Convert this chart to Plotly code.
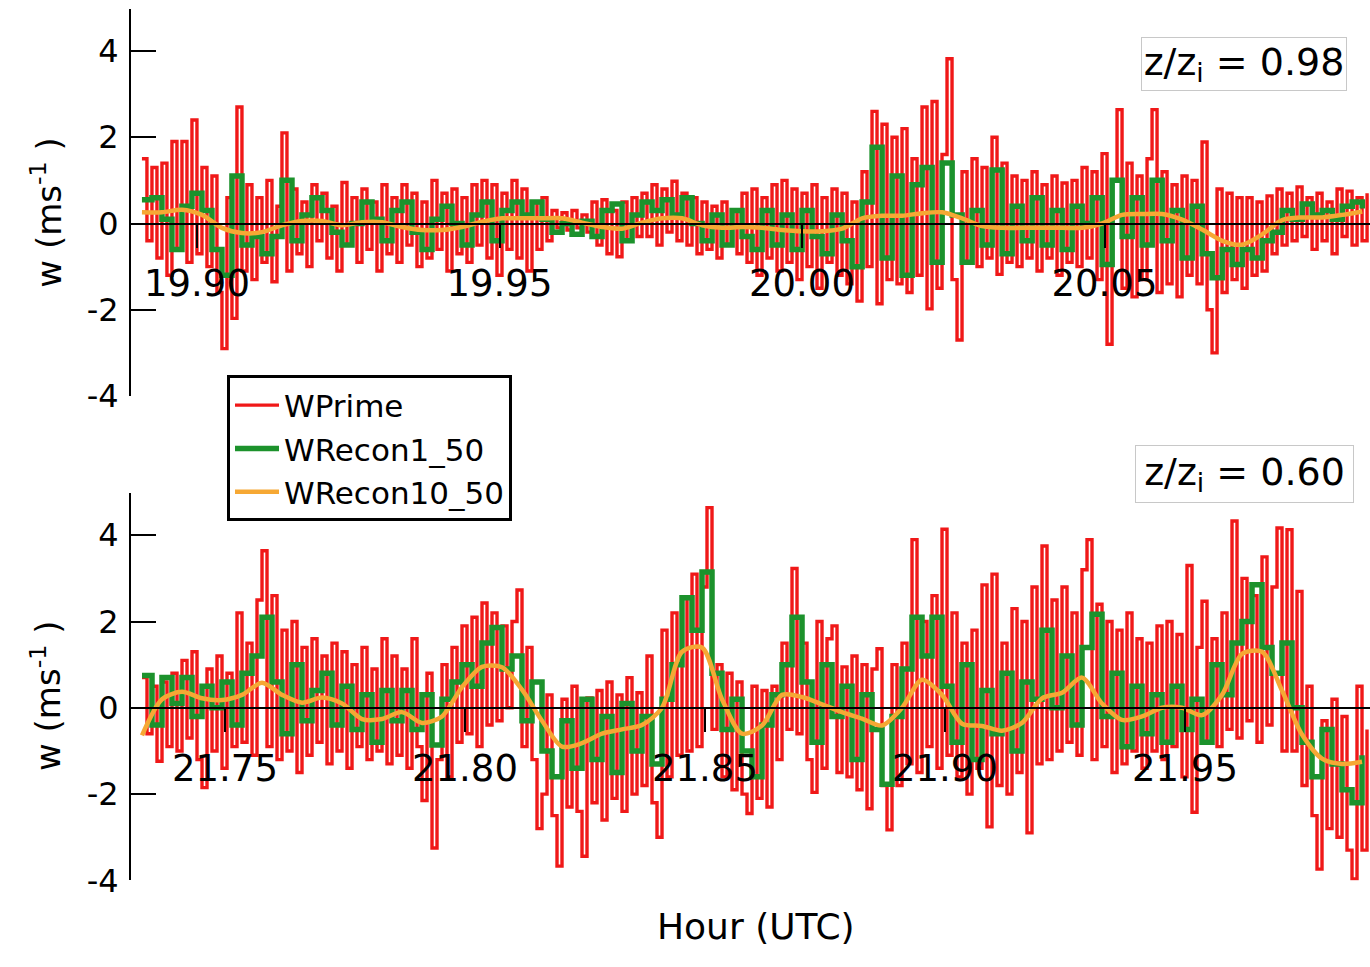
import numpy as np
import plotly.graph_objects as go

# ---------------- DATA ----------------
# Upper panel: z/zi = 0.98, time axis 19.89 .. 20.09 UTC
top_red_t = (19.8909, 20.0934)
top_red = [
    1.5, -0.4, 1.3, -0.8, 1.4, -1.2, 1.9, -0.6, 1.9, -0.9,
    2.4, -0.7, 1.3, -1.0, 1.1, -1.6, -2.9, 0.6, -2.2, 2.7,
    -1.1, 0.9, -1.3, 0.6, -0.9, 1.0, -1.35, 0.4, 2.1, -1.1,
    0.8, -0.7, 0.5, -1.0, 0.9, -0.4, 0.7, -0.8, 0.4, -1.1,
    0.95, -0.5, 0.6, -0.9, 0.8, -0.6, 0.5, -1.1, 0.9, -0.7,
    0.6, -0.9, 0.9, -0.5, 0.7, -1.0, 0.5, -0.8, 1.0, -0.6,
    0.7, -1.1, 0.8, -0.7, 0.6, -0.9, 0.9, -0.5, 1.0, -0.8,
    0.9, -1.2, 0.7, -0.6, 1.0, -0.8, 0.8, -1.1, 0.5, -0.6,
    0.6, -0.4, 0.3, -0.1, 0.25, -0.15, 0.3, -0.1, 0.2, -0.2,
    0.5, -0.5, 0.55, -0.7, 0.3, -0.77, 0.5, -0.4, 0.6, -0.3,
    0.7, -0.3, 0.9, -0.5, 0.8, -0.2, 0.98, -0.4, 0.7, -0.5,
    0.6, -0.7, 0.5, -0.6, 0.4, -0.8, 0.5, -0.5, 0.3, -0.7,
    0.7, -0.9, 0.8, -1.2, 0.6, -0.8, 0.9, -1.1, 1.0, -0.9,
    0.8, -1.3, 0.7, -1.0, 0.9, -1.5, 0.6, -0.9, 0.8, -1.2,
    0.7, -1.4, 0.5, -1.8, 1.2, -1.0, 2.6, -1.86, 2.3, -1.3,
    2.0, -1.4, 2.2, -1.6, 1.5, -1.2, 2.7, -1.98, 2.83, -1.5,
    1.6, 3.82, -1.3, -2.7, 1.2, -0.9, 1.5, -1.0, 1.3, -0.8,
    2.0, -1.18, 1.4, -0.9, 1.1, -1.0, 1.0, -0.8, 1.2, -1.1,
    0.9, -0.8, 1.1, -1.2, 0.94, -0.9, 1.0, -1.0, 1.3, -0.8,
    1.2, -1.3, 1.62, -2.8, 1.0, 2.64, -1.5, 1.4, -1.7, 1.1,
    -1.3, 1.5, 2.64, -1.6, 1.2, -1.4, 0.9, -1.7, 1.1, -1.2,
    1.0, -1.4, 1.89, -2.0, -3.0, 0.8, -1.6, 0.7, -1.3, 0.6,
    -1.5, 0.6, -1.2, 0.5, -1.1, 0.64, -0.7, 0.8, -0.5, 0.7,
    -0.4, 0.85, -0.3, 0.6, -0.6, 0.7, -0.4, 0.5, -0.7, 0.8,
    -0.3, 0.75, -0.5, 0.6, -0.4, 0.7,
]
top_green_t = (19.8909, 20.0926)
top_green = [
    0.55, 0.6, 0.1, -0.6, 0.4, 0.7, 0.3, -0.6, -1.2, 1.1,
    -0.5, -0.3, -0.7, -0.3, 1.0, -0.4, 0.2, 0.6, 0.3, -0.2,
    -0.5, 0.0, 0.5, 0.1, -0.4, 0.3, 0.5, -0.2, -0.6, 0.1,
    0.4, 0.0, -0.5, 0.2, 0.5, -0.4, 0.3, 0.5, 0.2, 0.5,
    0.1, -0.2, 0.0, -0.25, 0.05, -0.3, 0.3, 0.45, -0.4, 0.2,
    0.5, 0.3, 0.55, 0.2, 0.6, 0.0, -0.4, 0.2, -0.5, 0.3,
    -0.3, -0.6, 0.3, -0.5, 0.2, -0.6, 0.3, -0.3, -0.7, 0.2,
    -0.4, -1.0, 0.5, 1.77, -0.8, 1.1, -1.2, 0.9, 1.3, -0.9,
    1.4, 0.2, -0.9, 0.3, -0.5, 1.24, -0.7, 0.4, -0.4, 0.6,
    -0.5, 0.3, -0.6, 0.4, 0.0, 0.6, -0.95, 1.0, -0.3, 0.6,
    -0.5, 1.0, -0.4, 0.3, -0.8, 0.4, -0.7, -1.26, -0.6, -0.95,
    -0.6, -0.8, -0.4, -0.2, 0.3, 0.1, 0.45, 0.2, 0.3, 0.1,
    0.4, 0.5, 0.35,
]
top_orange_t = (19.8909, 20.0926)
top_orange = [
    0.26, 0.26, 0.32, 0.2, -0.1, -0.22, -0.2, -0.04, 0.06, 0.06,
    -0.04, 0.03, 0.03, -0.08, -0.15, -0.15, -0.08, 0.04, 0.12, 0.12,
    0.12, 0.12, 0.02, -0.08, -0.12, 0.02, 0.12, 0.12, -0.04, -0.1,
    -0.08, -0.1, -0.15, -0.18, -0.18, -0.12, 0.12, 0.18, 0.18, 0.24,
    0.26, 0.12, -0.06, -0.1, -0.1, -0.1, -0.1, -0.1, 0.0, 0.2,
    0.22, 0.22, 0.09, -0.14, -0.4, -0.49, -0.25, 0.08, 0.14, 0.14,
    0.2, 0.28,
]

# Lower panel: z/zi = 0.60, time axis 21.73 .. 21.99 UTC
bot_red_t = (21.73271, 21.98792)
bot_red = [
    0.7, -0.6, 0.5, -1.24, 0.6, -0.9, 0.8, -1.0, 1.1, -0.7,
    1.3, -1.2, -1.85, 0.9, -1.0, 1.2, -1.4, 0.8, -0.9, 2.2,
    -0.8, 1.5, -1.1, 2.5, 3.64, -0.9, 2.6, -1.2, 1.8, -1.0,
    2.0, -1.5, 1.4, -1.1, 1.6, -0.8, 1.2, -1.3, 1.5, -1.0,
    1.3, -1.4, 1.0, -0.9, 1.4, -1.2, 0.9, -1.0, 1.6, -1.3,
    1.2, -1.1, 0.9, -1.4, 1.6, -0.9, -2.15, 0.8, -3.25, -1.2,
    1.0, -1.6, 1.4, -0.8, 1.9, -0.6, 2.1, -0.9, 2.43, -0.4,
    2.2, -0.3, 1.9, 0.0, 2.0, 2.73, -0.9, 1.4, -1.2, -2.8,
    -2.0, 0.3, -2.5, -3.67, 0.2, -2.3, 0.5, -2.4, -3.44, 0.23,
    -2.2, 0.4, -2.6, 0.6, -2.1, 0.3, -2.4, 0.7, -2.0, 0.35,
    -1.8, 1.2, -2.2, -3.0, 1.8, -1.6, 2.2, -1.1, 2.55, -1.0,
    3.1, -0.9, 2.8, 4.64, -0.5, 1.0, -1.6, 0.8, -1.9, 0.6,
    -2.0, -2.45, 0.5, -2.1, 0.4, -2.3, 0.5, -1.2, 1.5, -0.5,
    3.23, -0.6, 1.5, -1.2, -1.96, 2.0, -1.4, 1.6, 1.9, -1.5,
    0.95, -1.6, 1.2, -1.9, 1.0, -2.34, 0.9, 1.37, -1.8, -2.83,
    1.0, -1.8, 1.5, -1.3, 3.9, -1.5, 2.0, -0.9, 2.6, -1.4,
    4.14, -1.1, 2.2, -1.6, 1.5, -2.0, 1.8, -1.4, 2.85, -2.76,
    3.1, -1.8, 1.5, -2.0, 2.3, -1.5, 2.0, -2.9, 2.8, -1.3,
    3.75, -1.2, 2.5, -1.0, 2.8, -0.8, 2.2, -1.1, 3.2, 3.9,
    -1.2, 2.4, -0.9, 2.0, -1.5, 1.8, -1.3, 2.2, -1.0, 1.6,
    -1.4, 1.5, -1.0, 1.9, -1.2, 2.0, -0.9, 1.7, -1.6, 3.3,
    -2.42, 1.4, 2.47, -0.8, 1.6, -0.9, 2.2, -0.5, 4.33, -0.7,
    3.0, -0.3, 2.6, -0.8, 3.5, -0.4, 2.8, 4.17, -1.0, 4.13,
    -1.0, 2.7, -1.8, 0.5, -2.5, -3.74, -0.3, -2.8, 0.2, -3.0,
    -0.2, -3.3, -3.97, 0.5, -3.3, -0.5,
]
bot_green_t = (21.73271, 21.98688)
bot_green = [
    0.75, -0.4, 0.7, 0.1, 0.7, -0.2, 0.5, 0.0, 0.6, -0.4,
    0.8, 1.2, 2.1, 0.6, -0.6, 1.0, -0.3, 0.4, 0.8, -0.4,
    0.5, -0.5, 0.3, -0.8, 0.4, -0.3, 0.4, -0.5, 0.3, -0.86,
    0.2, 0.6, 1.0, 0.5, 1.5, 1.86, 0.9, 1.2, -0.3, 0.6,
    -1.0, -1.6, -0.3, -1.4, 0.2, -1.2, -0.2, -1.5, 0.1, -1.0,
    -0.2, -1.3, 0.2, 1.0, 2.55, 1.8, 3.15, 0.8, -0.5, 0.2,
    -1.0, -1.6, -0.4, 0.3, 1.0, 2.1, 0.6, -0.8, 1.0, -0.2,
    0.5, -1.2, 0.3, -0.5, -1.77, -0.2, 0.9, 2.1, 1.2, 2.1,
    0.5, -0.8, 1.0, -1.2, 0.4, -0.6, 0.8, -1.0, 0.6, 0.2,
    1.8, 0.0, 1.2, -0.4, 1.4, 2.17, -0.2, 0.8, -0.9, 0.5,
    -0.6, 0.3, -0.8, 0.5, -0.5, 0.2, -0.8, 1.0, 0.3, 1.5,
    2.0, 2.85, 1.4, 0.8, 1.5, 0.0, -0.8, -1.6, -0.5, -1.3,
    -1.9, -2.2, -1.1,
]
bot_orange_t = (21.73271, 21.98688)
bot_orange = [
    -0.64, 0.2, 0.37, 0.22, 0.18, 0.3, 0.58, 0.3, 0.12, 0.24,
    0.1, -0.26, -0.26, -0.1, -0.35, -0.2, 0.48, 0.95, 0.94, 0.42,
    -0.3, -0.9, -0.82, -0.6, -0.5, -0.4, 0.0, 1.3, 1.4, 0.2,
    -0.6, -0.41, 0.3, 0.25, 0.08, -0.1, -0.25, -0.41, 0.0, 0.65,
    0.3, -0.37, -0.42, -0.53, -0.35, 0.22, 0.35, 0.7, 0.1, -0.28,
    -0.2, 0.0, 0.0, -0.17, 0.3, 1.25, 1.3, 0.4, -0.62, -1.18,
    -1.3, -1.25,
]

series_names = ["WPrime", "WRecon1_50", "WRecon10_50"]
panel_labels = ["z/z<sub>i</sub> = 0.98", "z/z<sub>i</sub> = 0.60"]
top_ticks = [19.90, 19.95, 20.00, 20.05]
top_ticktext = ["19.90", "19.95", "20.00", "20.05"]
bot_ticks = [21.75, 21.80, 21.85, 21.90, 21.95]
bot_ticktext = ["21.75", "21.80", "21.85", "21.90", "21.95"]
y_ticks = [-4, -2, 0, 2, 4]
y_ticktext = ["-4", "-2", "0", "2", "4"]

# ---------------- STYLE ----------------
RED = "rgb(240,24,24)"
GREEN = "rgb(28,146,44)"
ORANGE = "rgb(246,168,52)"
FONT = "DejaVu Sans"
W, H = 1370, 967


def times(span, values):
    return np.linspace(span[0], span[1], len(values))


fig = go.Figure()
panels = [
    ("x", "y", top_red_t, top_red, top_green_t, top_green, top_orange_t, top_orange, True),
    ("x2", "y2", bot_red_t, bot_red, bot_green_t, bot_green, bot_orange_t, bot_orange, False),
]
for xa, ya, rt, rv, gt, gv, ot, ov, show in panels:
    fig.add_trace(go.Scatter(x=times(rt, rv), y=rv, mode="lines", name=series_names[0],
                             line=dict(color=RED, width=3.4, shape="hv"),
                             xaxis=xa, yaxis=ya, showlegend=show, legendrank=1))
    fig.add_trace(go.Scatter(x=times(gt, gv), y=gv, mode="lines", name=series_names[1],
                             line=dict(color=GREEN, width=5.5, shape="hv"),
                             xaxis=xa, yaxis=ya, showlegend=show, legendrank=2))
    fig.add_trace(go.Scatter(x=times(ot, ov), y=ov, mode="lines", name=series_names[2],
                             line=dict(color=ORANGE, width=4.5, shape="spline", smoothing=0.8),
                             xaxis=xa, yaxis=ya, showlegend=show, legendrank=3))


def px_x(p):
    return p / W


def px_y(p):
    return 1 - p / H


x_common = dict(showline=True, linecolor="black", linewidth=2, ticks="outside", ticklen=23,
                tickwidth=2, tickcolor="black", showgrid=False, zeroline=False,
                tickfont=dict(family=FONT, size=37, color="black"), anchor="free",
                ticklabelstandoff=4)
y_common = dict(showline=True, linecolor="black", linewidth=2, ticks="inside", ticklen=25,
                tickwidth=2, tickcolor="black", showgrid=False, zeroline=False,
                tickvals=y_ticks, ticktext=y_ticktext, range=[-4, 4.977],
                tickfont=dict(family=FONT, size=32, color="black"), ticklabelstandoff=4)

fig.update_layout(
    width=W, height=H, margin=dict(l=0, r=0, t=0, b=0),
    paper_bgcolor="white", plot_bgcolor="white",
    font=dict(family=FONT, color="black"),
    xaxis=dict(domain=[px_x(131), 1], range=[19.889091, 20.093884], position=px_y(228.5),
               tickvals=top_ticks, ticktext=top_ticktext, **x_common),
    yaxis=dict(domain=[px_y(404), px_y(9)], anchor="x", **y_common),
    xaxis2=dict(domain=[px_x(131), 1], range=[21.730417, 21.988542], position=px_y(722.5),
                tickvals=bot_ticks, ticktext=bot_ticktext, **x_common),
    yaxis2=dict(domain=[px_y(898), px_y(503)], anchor="x2", **y_common),
    legend=dict(x=px_x(227), y=px_y(383), xanchor="left", yanchor="top",
                bgcolor="white", bordercolor="black", borderwidth=3, itemwidth=44,
                font=dict(family=FONT, size=31, color="black"), tracegroupgap=0),
    showlegend=True,
)

annos = [
    dict(text=panel_labels[0], x=px_x(1244), y=px_y(65), width=200, height=48),
    dict(text=panel_labels[1], x=px_x(1244.5), y=px_y(484), width=213, height=52),
]
for a in annos:
    fig.add_annotation(xref="paper", yref="paper", xanchor="center", yanchor="middle",
                       showarrow=False, bgcolor="white", bordercolor="rgb(200,200,200)",
                       borderwidth=1, borderpad=2, font=dict(family=FONT, size=38, color="black"),
                       **a)

for yc in (217, 710):
    fig.add_annotation(text="w (ms<sup>-1</sup> )", xref="paper", yref="paper",
                       x=px_x(46), y=px_y(yc), xanchor="center", yanchor="middle",
                       textangle=-90, showarrow=False,
                       font=dict(family=FONT, size=34, color="black"))

fig.add_annotation(text="Hour (UTC)", xref="paper", yref="paper", x=px_x(756), y=px_y(945),
                   xanchor="center", yanchor="middle", showarrow=False,
                   font=dict(family=FONT, size=36, color="black"))

fig.write_html("out.html")
